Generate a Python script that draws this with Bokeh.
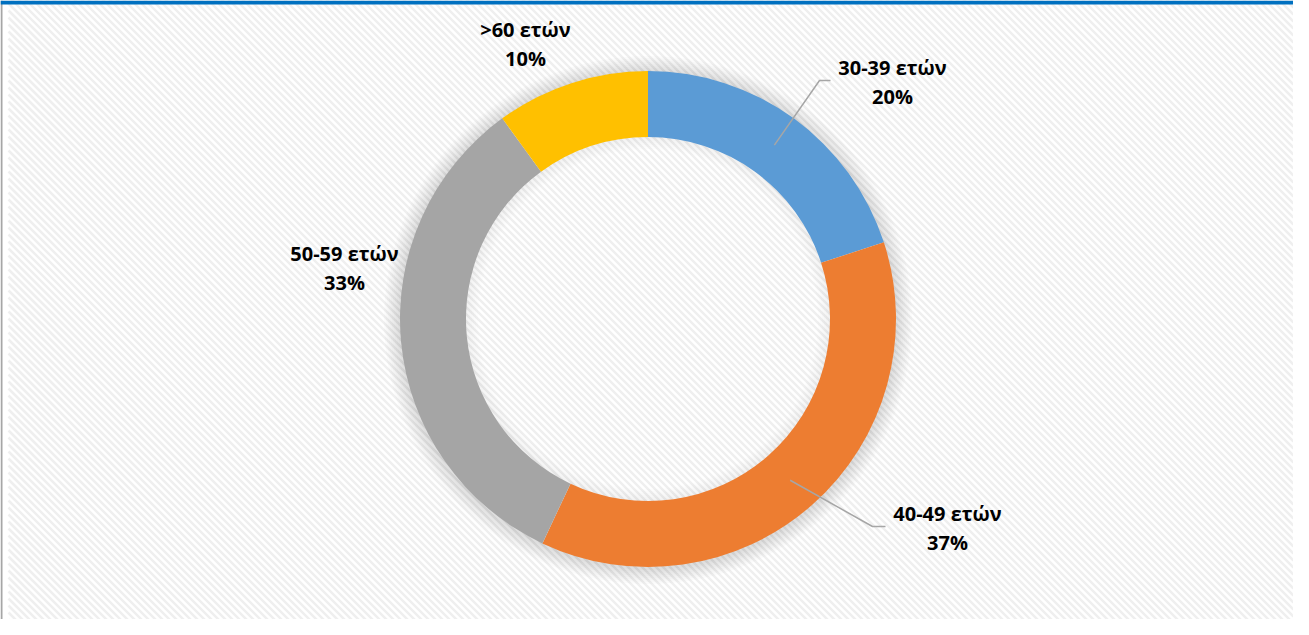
import numpy as np
from bokeh.plotting import figure
from bokeh.models import Range1d, BoxAnnotation, ColumnDataSource
from bokeh.core.properties import value
from bokeh.embed import file_html
from bokeh.resources import INLINE

# ---- data ----
categories = ["30-39 ετών", "40-49 ετών", "50-59 ετών", ">60 ετών"]
shares = [20, 37, 33, 10]
colors = ["#5B9BD5", "#ED7D31", "#A5A5A5", "#FFC000"]

# ---- layout ----
W, H = 1293, 619
CX, CY = 647.5, 300.5
R_OUT, R_IN = 248, 182
label_x = [892, 947, 344, 525]
label_y = [537.5, 91.5, 352, 576]
LINE_GAP = 14.5
STRIPE_STEP = 7
STRIPE_LEFT = 8

p = figure(width=W, height=H, x_range=Range1d(0, W), y_range=Range1d(0, H),
           output_backend="svg", toolbar_location=None, tools="", min_border=0)
p.axis.visible = False
p.grid.visible = False
p.outline_line_color = None
p.background_fill_color = "white"
p.border_fill_color = "white"

# diagonal-striped chart-area background ("\" direction)
cs = np.arange(STRIPE_LEFT, W + H + STRIPE_STEP, STRIPE_STEP)
p.multi_line(xs=[[STRIPE_LEFT, W] for c in cs],
             ys=[[c - STRIPE_LEFT, c - W] for c in cs],
             line_color="#efefef", line_width=2.5)

# left border and top title band
p.add_layout(BoxAnnotation(left=0, right=2, bottom=0, top=H, fill_color="#a6a6a6",
                           fill_alpha=1, line_color=None, level="underlay"))
p.add_layout(BoxAnnotation(left=0, right=W, bottom=H - 4, top=H, fill_color="#0070C0",
                           fill_alpha=1, line_color=None, level="overlay"))

# soft shadow around the ring
for k in range(1, 9):
    p.annulus(x=[CX], y=[CY - 1], inner_radius=R_OUT - 2, outer_radius=R_OUT + 2 * k,
              fill_color="black", fill_alpha=0.014, line_color=None)
for k in range(1, 7):
    p.annulus(x=[CX], y=[CY], inner_radius=R_IN - 2 * k, outer_radius=R_IN + 2,
              fill_color="black", fill_alpha=0.009, line_color=None)

# donut slices (clockwise from top)
vals = np.array(shares, dtype=float)
frac = vals / vals.sum()
cum_end = np.cumsum(frac)
cum_start = cum_end - frac
start_angle = np.pi / 2 - 2 * np.pi * cum_end
end_angle = np.pi / 2 - 2 * np.pi * cum_start
mid = (cum_start + cum_end) / 2

src = ColumnDataSource(dict(
    cat=categories, share=shares, color=colors,
    start=start_angle, end=end_angle,
    x=[CX] * len(shares), y=[CY] * len(shares),
))
p.annular_wedge(x="x", y="y", inner_radius=R_IN, outer_radius=R_OUT,
                start_angle="start", end_angle="end", fill_color="color",
                line_color=None, source=src)

# leader lines for the two right-side labels
r_mid = (R_IN + R_OUT) / 2
leader_idx = [0, 1]
bends = {0: [(819, 539), (830, 539)], 1: [(872, 93), (885, 93)]}
for i in leader_idx:
    ang = np.pi / 2 - 2 * np.pi * mid[i]
    sx = CX + r_mid * np.cos(ang)
    sy = CY + r_mid * np.sin(ang)
    xs = [sx] + [b[0] for b in bends[i]]
    ys = [sy] + [b[1] for b in bends[i]]
    p.line(xs, ys, line_color="#a6a6a6", line_width=1.5)

# labels
lab = ColumnDataSource(dict(
    x=label_x,
    y1=[y + LINE_GAP for y in label_y],
    y2=[y - LINE_GAP for y in label_y],
    name=categories,
    pct=[f"{v}%" for v in shares],
))
for col, yc in (("name", "y1"), ("pct", "y2")):
    p.text(x="x", y=yc, text=col, source=lab, text_align="center",
           text_baseline="middle", text_font=value("Open Sans"),
           text_font_style="bold", text_font_size="20px", text_color="#000000")

open("out.html", "w").write(file_html(p, INLINE))
